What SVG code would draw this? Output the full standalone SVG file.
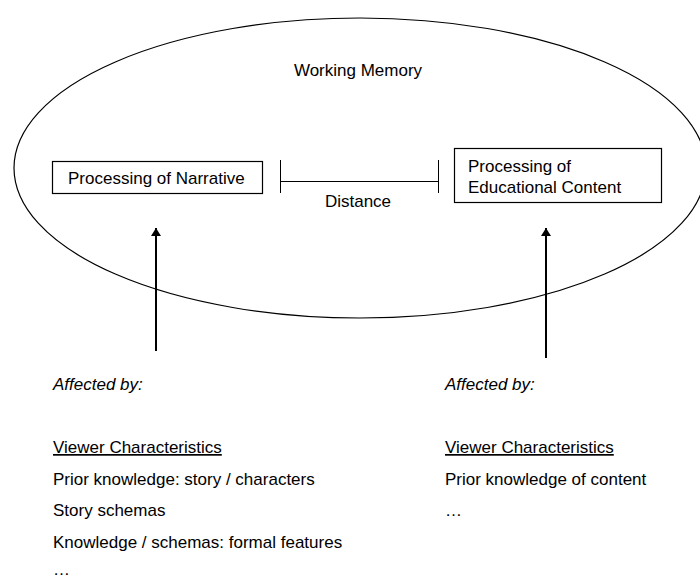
<svg xmlns="http://www.w3.org/2000/svg" width="700" height="579" viewBox="0 0 700 579">
<style>
text{font-family:"Liberation Sans",Arial,sans-serif;font-size:17px;fill:#000}
.box{fill:#fff;stroke:#000;stroke-width:1.2}
.ln{stroke:#000;fill:none}
.it{font-style:italic}
.ul{text-decoration:underline}
</style>
<defs>
<marker id="ah" viewBox="0 0 8 10" refX="8" refY="5" markerWidth="4" markerHeight="5" markerUnits="strokeWidth" orient="auto">
<path d="M0,0 L8,5 L0,10 Z" fill="#000"/>
</marker>
</defs>
<rect width="700" height="579" fill="#fff"/>
<g id="working-memory">
<ellipse cx="360" cy="168" rx="346" ry="150" class="ln" stroke-width="1.2"/>
<text x="358" y="76" text-anchor="middle">Working Memory</text>
</g>
<g id="narrative">
<rect class="box" x="52.5" y="161.5" width="210" height="32"/>
<text x="68" y="184">Processing of Narrative</text>
</g>
<g id="educational">
<rect class="box" x="454.5" y="148.5" width="207" height="54"/>
<text x="468" y="172">Processing of</text>
<text x="468" y="193">Educational Content</text>
</g>
<g id="connectors">
<line class="ln" x1="280.5" y1="160" x2="280.5" y2="193" stroke-width="1"/>
<line class="ln" x1="280" y1="181.5" x2="438" y2="181.5" stroke-width="1"/>
<line class="ln" x1="438.5" y1="160" x2="438.5" y2="193" stroke-width="1"/>
<line class="ln" x1="156" y1="351" x2="156" y2="228" stroke-width="2" marker-end="url(#ah)"/>
<line class="ln" x1="546" y1="358" x2="546" y2="228" stroke-width="2" marker-end="url(#ah)"/>
</g>
<g id="distance">
<text x="358" y="207" text-anchor="middle">Distance</text>
</g>
<g id="left-factors">
<text class="it" x="53" y="390">Affected by:</text>
<text class="ul" x="53" y="453">Viewer Characteristics</text>
<text x="53" y="485">Prior knowledge: story / characters</text>
<text x="53" y="516">Story schemas</text>
<text x="53" y="548">Knowledge / schemas: formal features</text>
<text x="53" y="575">…</text>
</g>
<g id="right-factors">
<text class="it" x="445" y="390">Affected by:</text>
<text class="ul" x="445" y="453">Viewer Characteristics</text>
<text x="445" y="485">Prior knowledge of content</text>
<text x="445" y="516">…</text>
</g>
</svg>
